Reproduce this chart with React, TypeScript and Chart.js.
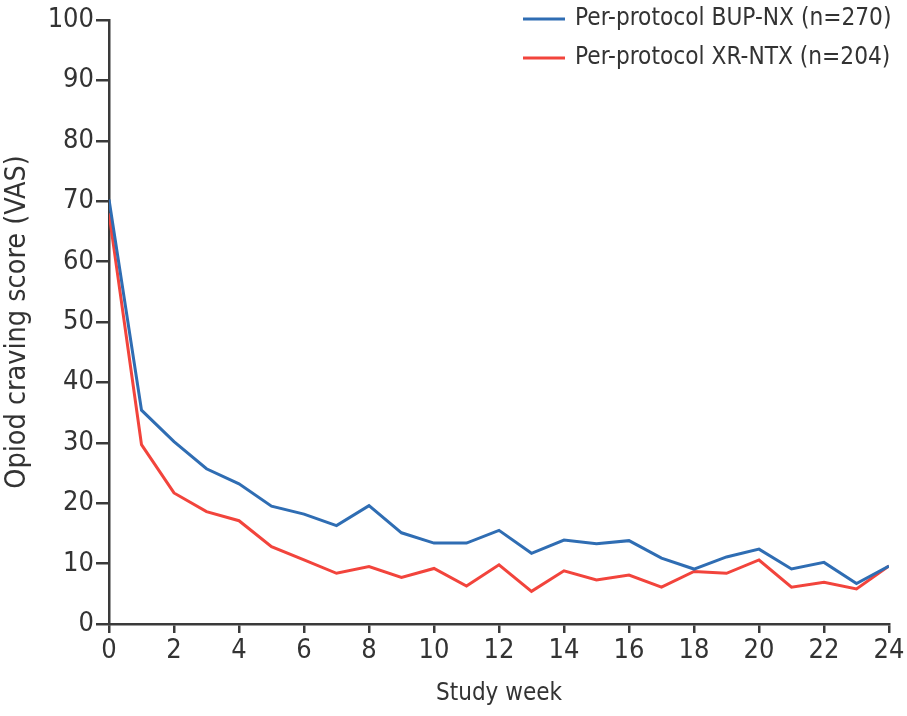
import React, { useEffect, useRef } from "react";
import { Chart, registerables } from "chart.js";

Chart.register(...registerables);

const weeks: number[] = [0, 1, 2, 3, 4, 5, 6, 7, 8, 9, 10, 11, 12, 13, 14, 15, 16, 17, 18, 19, 20, 21, 22, 23, 24];
const bupNx: number[] = [70.3, 35.4, 30.2, 25.7, 23.2, 19.5, 18.2, 16.3, 19.6, 15.1, 13.4, 13.4, 15.5, 11.7, 13.9, 13.3, 13.8, 10.9, 9.1, 11.1, 12.4, 9.1, 10.2, 6.7, 9.6];
const xrNtx: number[] = [68.0, 29.7, 21.7, 18.6, 17.1, 12.8, 10.6, 8.4, 9.5, 7.7, 9.2, 6.3, 9.8, 5.4, 8.8, 7.3, 8.1, 6.1, 8.7, 8.4, 10.6, 6.1, 6.9, 5.8, 9.6];
const seriesLabels: string[] = ["Per-protocol BUP-NX (n=270)", "Per-protocol XR-NTX (n=204)"];
const seriesColors: string[] = ["#2f6db3", "#f2443c"];
const xTitle = "Study week";
const yTitle = "Opiod craving score (VAS)";

const FONT = "'DejaVu Sans Condensed', 'Liberation Sans Narrow', sans-serif";
const TEXT = "#333333";
const AXIS = "#3a3a3a";

const legendPlugin = {
  id: "insideLegend",
  afterDraw(chart: any) {
    const ctx = chart.ctx;
    ctx.save();
    const rows = [19, 58];
    chart.data.datasets.forEach((ds: any, i: number) => {
      const y = rows[i];
      ctx.strokeStyle = ds.borderColor;
      ctx.lineWidth = 3;
      ctx.beginPath();
      ctx.moveTo(523, y);
      ctx.lineTo(565, y);
      ctx.stroke();
      ctx.fillStyle = TEXT;
      ctx.font = `24.2px ${FONT}`;
      ctx.textBaseline = "middle";
      ctx.textAlign = "left";
      ctx.fillText(ds.label, 575, y);
    });
    ctx.restore();
  },
};

export default function App() {
  const ref = useRef<HTMLCanvasElement | null>(null);
  useEffect(() => {
    if (!ref.current) return;
    const mk = (vals: number[]) => weeks.map((w, i) => ({ x: w, y: vals[i] }));
    const chart = new Chart(ref.current, {
      type: "line",
      data: {
        datasets: [
          { label: seriesLabels[0], data: mk(bupNx), borderColor: seriesColors[0], backgroundColor: seriesColors[0], borderWidth: 3, pointRadius: 0, tension: 0 },
          { label: seriesLabels[1], data: mk(xrNtx), borderColor: seriesColors[1], backgroundColor: seriesColors[1], borderWidth: 3, pointRadius: 0, tension: 0 },
        ],
      },
      options: {
        animation: false,
        responsive: false,
        layout: { padding: { top: 20, right: 18, left: 0, bottom: 0 } },
        plugins: { legend: { display: false }, tooltip: { enabled: false } },
        scales: {
          x: {
            type: "linear",
            min: 0,
            max: 24,
            afterFit: (s: any) => { s.height = 92; },
            ticks: { stepSize: 2, color: TEXT, font: { family: FONT, size: 27 }, padding: 2, maxRotation: 0 },
            grid: { drawOnChartArea: false, drawTicks: true, tickLength: 9, color: AXIS, lineWidth: 2.5 },
            border: { display: true, color: AXIS, width: 2.5 },
            title: { display: true, text: xTitle, color: TEXT, font: { family: FONT, size: 24 }, padding: { top: 0, bottom: 8 } },
          },
          y: {
            min: 0,
            max: 100,
            afterFit: (s: any) => { s.width = 109; },
            ticks: { stepSize: 10, color: TEXT, font: { family: FONT, size: 27 }, padding: 2 },
            grid: { drawOnChartArea: false, drawTicks: true, tickLength: 13, color: AXIS, lineWidth: 2.5 },
            border: { display: true, color: AXIS, width: 2.5 },
            title: { display: true, text: yTitle, color: TEXT, font: { family: FONT, size: 28.5 }, padding: 0 },
          },
        },
      },
      plugins: [legendPlugin],
    });
    return () => chart.destroy();
  }, []);
  return (
    <div style={{ position: "absolute", left: 0, top: 0, width: 907, height: 716, background: "#fff" }}>
      <canvas ref={ref} width={907} height={716} style={{ width: 907, height: 716 }} />
    </div>
  );
}
